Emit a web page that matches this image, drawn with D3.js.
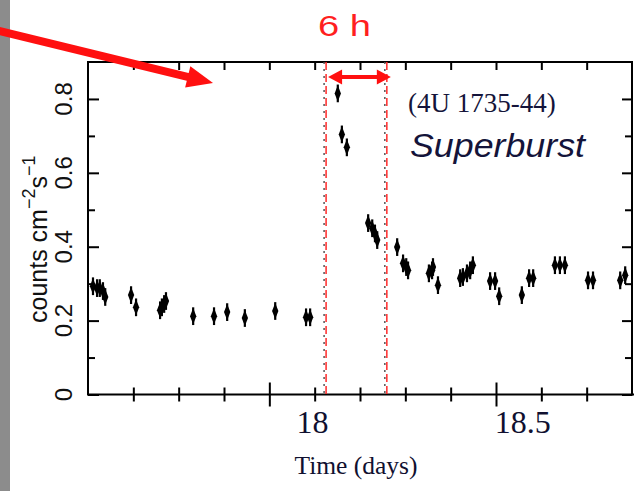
<!DOCTYPE html>
<html>
<head>
<meta charset="utf-8">
<script src="https://cdn.jsdelivr.net/npm/d3@7"></script>
<style>
  body { margin: 0; background: #fff; }
  svg { display: block; }
</style>
</head>
<body>
<svg id="chart" width="634" height="491"></svg>
<script>
// light curve, 4U 1735-44 superburst (time in days, rate in counts cm^-2 s^-1)
const times = [17.611, 17.620, 17.626, 17.633, 17.638, 17.695, 17.706,
  17.759, 17.763, 17.768, 17.772, 17.832, 17.878, 17.907, 17.946, 18.013,
  18.081, 18.090, 18.151, 18.160, 18.171, 18.218, 18.227, 18.233, 18.238,
  18.282, 18.295, 18.302, 18.306, 18.352, 18.359, 18.361, 18.372,
  18.421, 18.427, 18.436, 18.443, 18.449, 18.487, 18.498, 18.507,
  18.557, 18.573, 18.582, 18.630, 18.641, 18.652, 18.703, 18.714,
  18.774, 18.785];
const rates = [0.293, 0.288, 0.288, 0.280, 0.264, 0.269, 0.236,
  0.228, 0.236, 0.245, 0.253, 0.212, 0.212, 0.223, 0.207, 0.226,
  0.209, 0.209, 0.815, 0.704, 0.669, 0.464, 0.450, 0.436, 0.418,
  0.399, 0.355, 0.345, 0.336, 0.328, 0.336, 0.345, 0.296,
  0.315, 0.318, 0.328, 0.336, 0.350, 0.307, 0.307, 0.266,
  0.269, 0.315, 0.315, 0.350, 0.350, 0.350, 0.309, 0.309,
  0.309, 0.323];
const rateErr = 0.024;

const yMajor = [0, 0.2, 0.4, 0.6, 0.8];
const yMinor = [0.1, 0.3, 0.5, 0.7];
const xMajor = [18.0, 18.5];
const xMinor = [17.7, 17.8, 17.9, 18.1, 18.2, 18.3, 18.4, 18.6, 18.7];
const xTickLabels = ["18", "18.5"];
const xTickLabelAt = [18.095, 18.559];   // labels sit right of their ticks in the original
const burstWindow = [18.123, 18.257];    // dashed red lines

const svg = d3.select("#chart");
const pLeft = 88, pRight = 632, pTop = 62, pBottom = 394.5;

const x = d3.scaleLinear().domain([17.6, 18.8]).range([pLeft, pRight]);
const y = d3.scaleLinear().domain([0, 0.9]).range([pBottom, pTop]);

// grey strip at the left edge of the slide
svg.append("rect").attr("x", 0).attr("y", 0).attr("width", 10).attr("height", 491).attr("fill", "#8c8c8c");

const ink = "#000";

// axes with inward ticks
function inward(axisGen, vals, size, tx, ty) {
  const g = svg.append("g").attr("transform", `translate(${tx},${ty})`)
    .call(axisGen.tickValues(vals).tickSize(size).tickFormat(""));
  g.select(".domain").remove();
  g.selectAll(".tick line").attr("stroke", ink).attr("stroke-width", 2);
  return g;
}
inward(d3.axisRight(y), yMajor, 11, pLeft, 0);
inward(d3.axisRight(y), yMinor, 7, pLeft, 0);
inward(d3.axisLeft(y), yMajor, 10, pRight, 0);
inward(d3.axisLeft(y), yMinor, 7, pRight, 0);
inward(d3.axisBottom(x), xMajor.concat(xMinor), 8, 0, pTop);

// bottom ticks cross the axis line
const bMaj = inward(d3.axisBottom(x), xMajor, 0, 0, pBottom);
bMaj.selectAll(".tick line").attr("y1", -12).attr("y2", 12);
const bMin = inward(d3.axisBottom(x), xMinor, 0, 0, pBottom);
bMin.selectAll(".tick line").attr("y1", -7).attr("y2", 7);

// frame
svg.append("rect").attr("x", pLeft).attr("y", pTop)
  .attr("width", pRight - pLeft).attr("height", pBottom - pTop)
  .attr("fill", "none").attr("stroke", ink).attr("stroke-width", 2);
svg.append("line").attr("x1", pRight).attr("x2", 634).attr("y1", pBottom).attr("y2", pBottom)
  .attr("stroke", ink).attr("stroke-width", 2);

// y tick labels (rotated)
svg.append("g").selectAll("text").data(yMajor).join("text")
  .attr("transform", d => `translate(72,${y(d)}) rotate(-90)`)
  .attr("text-anchor", "middle")
  .attr("font-family", "Liberation Sans, Arial, sans-serif")
  .attr("font-size", 24)
  .attr("fill", "#111")
  .text(d => d === 0 ? "0" : d.toFixed(1));

// y title
const yt = svg.append("text")
  .attr("transform", `translate(47,323) rotate(-90)`)
  .attr("font-family", "Liberation Sans, Arial, sans-serif")
  .attr("font-size", 25).attr("fill", "#111");
yt.append("tspan").text("counts cm");
yt.append("tspan").attr("dy", -12).attr("font-size", 18).text("\u22122");
yt.append("tspan").attr("dy", 12).text("s");
yt.append("tspan").attr("dy", -12).attr("font-size", 18).text("\u22121");

// x tick labels
svg.append("g").selectAll("text").data(xTickLabels).join("text")
  .attr("x", (d, i) => x(xTickLabelAt[i]))
  .attr("y", 433)
  .attr("text-anchor", "middle")
  .attr("font-family", "Liberation Serif, Times New Roman, serif")
  .attr("font-size", 32)
  .attr("fill", "#101030")
  .text(d => d);

svg.append("text").attr("x", 356).attr("y", 474).attr("text-anchor", "middle")
  .attr("font-family", "Liberation Serif, Times New Roman, serif")
  .attr("font-size", 25.5).attr("fill", "#101030")
  .text("Time (days)");

// dashed window lines
burstWindow.forEach(t => {
  svg.append("line").attr("x1", x(t) - 1).attr("x2", x(t) - 1).attr("y1", pTop).attr("y2", pBottom + 2)
    .attr("stroke", "#555").attr("stroke-width", 1.5).attr("stroke-dasharray", "2,5");
  svg.append("line").attr("x1", x(t) + 1).attr("x2", x(t) + 1).attr("y1", pTop).attr("y2", pBottom + 2)
    .attr("stroke", "#ff2a2a").attr("stroke-width", 1.5).attr("stroke-dasharray", "8,4");
});

// data points with error bars
const pts = svg.append("g");
times.forEach((t, i) => {
  pts.append("line").attr("x1", x(t)).attr("x2", x(t))
    .attr("y1", y(rates[i] - rateErr)).attr("y2", y(rates[i] + rateErr))
    .attr("stroke", ink).attr("stroke-width", 2.2);
  pts.append("path")
    .attr("d", d3.symbol(d3.symbolDiamond, 48)())
    .attr("transform", `translate(${x(t)},${y(rates[i])}) scale(0.85,1.25)`)
    .attr("fill", ink);
});

// annotations
svg.append("text").attr("x", 318).attr("y", 36)
  .attr("font-family", "Liberation Sans, Arial, sans-serif")
  .attr("font-size", 29).attr("fill", "#ff1f1f")
  .attr("textLength", 53).attr("lengthAdjust", "spacingAndGlyphs")
  .text("6 h");

const red = "#ff1010";
// double arrow between the dashed lines
const ax0 = x(burstWindow[0]) + 3, ax1 = x(burstWindow[1]) + 5, ay = 77;
svg.append("line").attr("x1", ax0 + 10).attr("x2", ax1 - 10).attr("y1", ay).attr("y2", ay)
  .attr("stroke", red).attr("stroke-width", 4);
svg.append("path").attr("fill", red)
  .attr("d", `M${ax0},${ay} L${ax0 + 14},${ay - 7.5} L${ax0 + 14},${ay + 7.5} Z
              M${ax1},${ay} L${ax1 - 14},${ay - 7.5} L${ax1 - 14},${ay + 7.5} Z`);

// big arrow from the left
const tip = [213, 83], tail = [-5, 30];
const ang = Math.atan2(tip[1] - tail[1], tip[0] - tail[0]);
const hl = 26, hw = 11;
const bx = tip[0] - hl * Math.cos(ang), by = tip[1] - hl * Math.sin(ang);
svg.append("line").attr("x1", tail[0]).attr("y1", tail[1]).attr("x2", bx + 2 * Math.cos(ang)).attr("y2", by + 2 * Math.sin(ang))
  .attr("stroke", red).attr("stroke-width", 8);
svg.append("path").attr("fill", red)
  .attr("d", `M${tip[0]},${tip[1]} L${bx - hw * Math.sin(ang)},${by + hw * Math.cos(ang)} L${bx + hw * Math.sin(ang)},${by - hw * Math.cos(ang)} Z`);

svg.append("text").attr("x", 408).attr("y", 112)
  .attr("font-family", "Liberation Serif, Times New Roman, serif")
  .attr("font-size", 27).attr("fill", "#14143a").text("(4U 1735-44)");
svg.append("text").attr("x", 410).attr("y", 157)
  .attr("font-family", "Liberation Sans, Arial, sans-serif")
  .attr("font-style", "italic")
  .attr("font-size", 34).attr("fill", "#14143a")
  .attr("textLength", 175).attr("lengthAdjust", "spacingAndGlyphs")
  .text("Superburst");
</script>
</body>
</html>
